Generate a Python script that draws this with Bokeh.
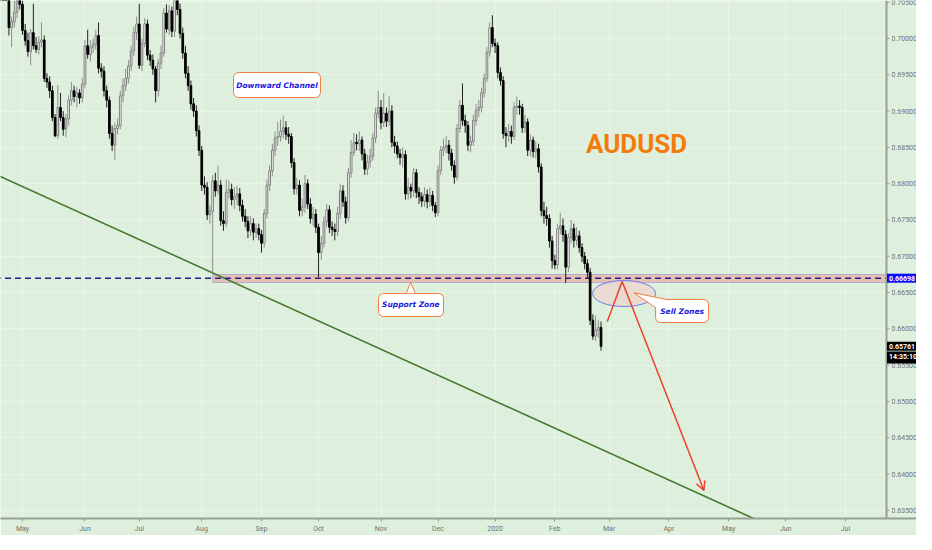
import pandas as pd
from bokeh.plotting import figure
from bokeh.core.properties import value
from bokeh.models import (Range1d, FixedTicker, BoxAnnotation, Span, Grid,
                          Label, Slope, Arrow, OpenHead, ColumnDataSource)
from bokeh.embed import file_html
from bokeh.resources import INLINE

# ---------------- data (AUDUSD daily) ----------------
first_open = 0.7160
closes = [
    .7150, .7150, .7132, .7098, .7015, .7023, .7036, .7054, .7047, .7011,
    .6997, .6982, .7008, .6990, .6985, .6995, .6998, .6945, .6940, .6928,
    .6891, .6866, .6905, .6891, .6875, .6889, .6915, .6928, .6920, .6925,
    .6918, .6937, .6990, .6978, .6988, .6992, .7004, .6959, .6955, .6928,
    .6915, .6869, .6853, .6876, .6880, .6921, .6935, .6945, .6962, .6983,
    .7008, .7020, .6963, .6993, .7020, .6977, .6970, .6958, .6928, .6966,
    .6980, .7035, .7013, .7038, .7010, .7058, .7040, .7007, .6980, .6952,
    .6935, .6910, .6900, .6873, .6846, .6798, .6795, .6757, .6762, .6804,
    .6790, .6798, .6749, .6745, .6788, .6792, .6778, .6782, .6786, .6770,
    .6755, .6748, .6735, .6745, .6733, .6738, .6730, .6718, .6759, .6798,
    .6818, .6846, .6863, .6865, .6872, .6877, .6868, .6865, .6829, .6793,
    .6798, .6763, .6768, .6800, .6772, .6752, .6758, .6740, .6705, .6718,
    .6747, .6764, .6740, .6737, .6734, .6759, .6790, .6775, .6753, .6815,
    .6843, .6857, .6855, .6860, .6841, .6820, .6830, .6838, .6863, .6897,
    .6905, .6884, .6897, .6886, .6900, .6857, .6852, .6841, .6836, .6840,
    .6786, .6795, .6790, .6815, .6788, .6782, .6776, .6785, .6775, .6784,
    .6770, .6760, .6818, .6846, .6850, .6853, .6842, .6825, .6809, .6876,
    .6908, .6887, .6880, .6853, .6858, .6887, .6901, .6905, .6925, .6945,
    .6981, .7015, .6993, .6990, .6953, .6942, .6869, .6866, .6872, .6865,
    .6905, .6907, .6905, .6877, .6885, .6846, .6860, .6844, .6848, .6823,
    .6763, .6756, .6752, .6721, .6694, .6688, .6738, .6742, .6730, .6685,
    .6726, .6738, .6722, .6728, .6712, .6700, .6690, .6678, .6612, .6590,
    .6598, .6602, .6576]
highs = [
    .7172, .7160, .7158, .7140, .7104, .7030, .7052, .7062, .7066, .7052,
    .7020, .7008, .7013, .7048, .7002, .7003, .7022, .7004, .6952, .6948,
    .6935, .6896, .6936, .6925, .6900, .6896, .6922, .6940, .6935, .6933,
    .6930, .6945, .6998, .7012, .6998, .7000, .7012, .7022, .6966, .6962,
    .6935, .6920, .6880, .6884, .6890, .6928, .6945, .6958, .6970, .6990,
    .7016, .7030, .7048, .7000, .7028, .7026, .6984, .6978, .6962, .6972,
    .6990, .7042, .7047, .7046, .7044, .7082, .7068, .7048, .7015, .6990,
    .6962, .6942, .6918, .6908, .6880, .6852, .6810, .6802, .6770, .6812,
    .6815, .6825, .6805, .6762, .6806, .6805, .6800, .6795, .6797, .6794,
    .6778, .6765, .6755, .6756, .6752, .6745, .6745, .6736, .6765, .6806,
    .6826, .6855, .6872, .6885, .6888, .6894, .6886, .6878, .6870, .6835,
    .6808, .6805, .6780, .6812, .6806, .6780, .6768, .6765, .6745, .6728,
    .6755, .6772, .6770, .6748, .6745, .6768, .6800, .6798, .6782, .6822,
    .6860, .6870, .6868, .6872, .6865, .6848, .6840, .6848, .6870, .6905,
    .6928, .6915, .6925, .6905, .6920, .6908, .6866, .6858, .6848, .6850,
    .6846, .6808, .6800, .6822, .6820, .6795, .6788, .6795, .6792, .6795,
    .6790, .6775, .6825, .6852, .6862, .6866, .6860, .6848, .6832, .6882,
    .6915, .6938, .6895, .6886, .6866, .6895, .6910, .6915, .6932, .6952,
    .6988, .7022, .7032, .7000, .6995, .6960, .6948, .6878, .6882, .6880,
    .6912, .6920, .6915, .6910, .6895, .6890, .6868, .6865, .6858, .6855,
    .6828, .6775, .6768, .6758, .6728, .6702, .6745, .6760, .6752, .6736,
    .6732, .6750, .6745, .6740, .6735, .6718, .6706, .6696, .6684, .6620,
    .6618, .6612, .6610]
lows = [
    .7140, .7138, .7125, .7090, .7004, .6988, .7015, .7028, .7040, .7005,
    .6990, .6975, .6963, .6985, .6980, .6978, .6988, .6940, .6932, .6918,
    .6886, .6864, .6862, .6886, .6866, .6864, .6880, .6908, .6912, .6905,
    .6910, .6912, .6932, .6972, .6968, .6980, .6984, .6952, .6946, .6920,
    .6905, .6862, .6845, .6832, .6868, .6875, .6912, .6928, .6938, .6955,
    .6976, .6998, .6958, .6955, .6988, .6970, .6962, .6950, .6912, .6920,
    .6958, .6975, .7008, .7005, .7002, .7002, .7032, .7000, .6972, .6945,
    .6928, .6902, .6892, .6865, .6838, .6790, .6785, .6750, .6745, .6678,
    .6782, .6785, .6742, .6735, .6740, .6780, .6770, .6765, .6770, .6762,
    .6748, .6740, .6725, .6728, .6722, .6725, .6722, .6705, .6712, .6752,
    .6790, .6810, .6838, .6852, .6858, .6862, .6860, .6855, .6822, .6785,
    .6785, .6755, .6755, .6760, .6765, .6745, .6742, .6732, .6671, .6695,
    .6712, .6740, .6732, .6728, .6722, .6728, .6752, .6768, .6745, .6748,
    .6808, .6838, .6846, .6845, .6832, .6812, .6812, .6822, .6832, .6856,
    .6890, .6875, .6878, .6878, .6880, .6850, .6842, .6835, .6826, .6822,
    .6778, .6778, .6780, .6782, .6780, .6772, .6768, .6768, .6766, .6768,
    .6762, .6754, .6755, .6812, .6838, .6842, .6832, .6818, .6800, .6804,
    .6870, .6880, .6870, .6845, .6843, .6852, .6880, .6892, .6898, .6918,
    .6940, .6975, .6988, .6980, .6945, .6935, .6862, .6850, .6858, .6855,
    .6860, .6895, .6895, .6870, .6870, .6838, .6838, .6836, .6835, .6815,
    .6755, .6745, .6742, .6712, .6683, .6682, .6682, .6730, .6720, .6663,
    .6678, .6718, .6712, .6715, .6705, .6692, .6682, .6670, .6605, .6585,
    .6583, .6588, .6570]

month_labels = ["May", "Jun", "Jul", "Aug", "Sep", "Oct", "Nov", "Dec",
                "2020", "Feb", "Mar", "Apr", "May", "Jun", "Jul"]
month_keys = ["2019-05", "2019-06", "2019-07", "2019-08", "2019-09", "2019-10",
              "2019-11", "2019-12", "2020-01", "2020-02", "2020-03", "2020-04",
              "2020-05", "2020-06", "2020-07"]
price_ticks = [0.635, 0.640, 0.645, 0.650, 0.655, 0.660, 0.665, 0.670,
               0.675, 0.680, 0.685, 0.690, 0.695, 0.700, 0.705]
support_level = 0.66698
last_price = 0.65761
countdown = "14:35:10"
symbol = "AUDUSD"

# ---------------- calendar (trading days, bar index axis) ----------------
days = pd.bdate_range("2019-04-18", "2020-07-31")
days = days[~days.isin(pd.to_datetime(["2019-12-25", "2020-01-01"]))]
month_of = [d.strftime("%Y-%m") for d in days]
tick_idx = [month_of.index(k) for k in month_keys]

n = min(len(closes), len(highs), len(lows))
closes, highs, lows = closes[:n], highs[:n], lows[:n]
opens = [first_open] + closes[:-1]
up = [c >= o for o, c in zip(opens, closes)]

def subset(flag):
    ii = [i for i in range(n) if up[i] == flag]
    return ColumnDataSource(dict(
        x=ii,
        top=[max(opens[i], closes[i]) for i in ii],
        bottom=[min(opens[i], closes[i]) for i in ii],
        high=[highs[i] for i in ii],
        low=[lows[i] for i in ii]))

# ---------------- layout ----------------
BG = "#DEF0DD"
GRID = "#E9F5E7"
AX = "#95A095"
TXT = "#707070"
W = 916
FRAME_H = 518
BAR_PX = 2.716               # pixels per bar
PRICE_PX = 7260.0            # pixels per 1.0 of price
SCALE_W = 30                 # width of the price scale strip
X0 = 0.902                   # bar index at the left edge
XR = X0 + (W - SCALE_W) / BAR_PX   # price-scale line
XEND = X0 + W / BAR_PX
Y1 = 0.70523
Y0 = Y1 - FRAME_H / PRICE_PX
PX = 1.0 / BAR_PX            # one pixel in bar units

p = figure(width=W, frame_height=FRAME_H, output_backend="svg", toolbar_location=None,
           x_range=Range1d(X0, XEND), y_range=Range1d(Y0, Y1),
           y_axis_location=None, min_border=0)
p.background_fill_color = BG
p.border_fill_color = BG
p.outline_line_color = None

p.xaxis.ticker = FixedTicker(ticks=tick_idx)
p.xaxis.major_label_overrides = {t: l for t, l in zip(tick_idx, month_labels)}
p.xaxis.axis_line_color = AX
p.xaxis.axis_line_width = 2
p.xaxis.major_tick_line_color = AX
p.xaxis.major_tick_in = 0
p.xaxis.major_tick_out = 3
p.xaxis.minor_tick_line_color = None
p.xaxis.major_label_text_color = TXT
p.xaxis.major_label_text_font = "Roboto"
p.xaxis.major_label_text_font_size = "7px"
p.xaxis.major_label_standoff = 3
p.xgrid.grid_line_color = GRID
p.add_layout(Grid(dimension=1, ticker=FixedTicker(ticks=price_ticks), bounds=(X0, XR),
                  grid_line_color=GRID, level="underlay"))

# price scale (drawn inside the frame on the right)
p.add_layout(Span(location=XR, dimension="height", line_color=AX, line_width=2))
p.segment(x0=[XR] * len(price_ticks), x1=[XR + 3 * PX] * len(price_ticks),
          y0=price_ticks, y1=price_ticks, line_color=AX, line_width=1)
p.text(x=[XR + 5 * PX] * len(price_ticks), y=price_ticks,
       text=["%.5f" % t for t in price_ticks], text_font=value("Roboto"),
       text_font_size=value("7px"), text_color=TXT, text_baseline="middle",
       text_align="left")

# support zone + dashed level
p.add_layout(BoxAnnotation(left=79, right=XR, bottom=0.66639, top=0.66749,
                           fill_color="#E8C0B2", fill_alpha=1.0, line_color="#4A4AE0",
                           line_width=1, level="underlay"))
p.segment(x0=[X0 - 2], x1=[XR], y0=[support_level], y1=[support_level],
          line_color="#1F1F8A", line_width=1.6, line_dash="6 4")
# long-term trendline
p.add_layout(Slope(gradient=-0.00016987, y_intercept=0.68114, line_color="#467A34",
                   line_width=1.6, level="underlay"))

# candles
bull = subset(True)
bear = subset(False)
p.segment(x0="x", y0="low", x1="x", y1="high", source=bull, line_color="#8C8C8C", line_width=1)
p.vbar(x="x", width=0.62, top="top", bottom="bottom", source=bull,
       fill_color="#FFFFFF", line_color="#7E7E7E", line_width=1)
p.segment(x0="x", y0="low", x1="x", y1="high", source=bear, line_color="#222222", line_width=1)
p.vbar(x="x", width=0.62, top="top", bottom="bottom", source=bear,
       fill_color="#000000", line_color="#000000", line_width=1)

# sell-zone ellipse and red projection
p.ellipse(x=[230.5], y=[0.66487], width=23.2, height=0.00358,
          fill_color="#EAD8CE", fill_alpha=0.9, line_color="#6B7CF0", line_width=1)
RED = "#E8412C"
p.line(x=[224.3, 229.8], y=[0.66100, 0.66652], line_color=RED, line_width=1.5)
p.add_layout(Arrow(x_start=229.8, y_start=0.66652, x_end=259.9, y_end=0.63774,
                   line_color=RED, line_width=1.5,
                   end=OpenHead(size=9, line_color=RED, line_width=1.5)))

# callouts
ORANGE = "#F27B3A"
BLUE_TXT = "#1818E0"

def callout(left, right, top, bottom, text, tx, ty, pointer=None):
    p.quad(left=[left], right=[right], top=[top], bottom=[bottom], border_radius=5,
           fill_color="#FFFFFF", line_color=ORANGE, line_width=1)
    if pointer is not None:
        (ax_, ay_), (b1x, b1y), (b2x, b2y) = pointer
        p.patch(x=[b1x, ax_, b2x], y=[b1y, ay_, b2y], fill_color="#FFFFFF", line_color=None)
        p.line(x=[b1x, ax_, b2x], y=[b1y, ay_, b2y], line_color=ORANGE, line_width=1)
    p.add_layout(Label(x=tx, y=ty, text=text, text_align="center", text_baseline="middle",
                       text_font="DejaVu Sans", text_font_style="bold italic",
                       text_font_size="7.5px", text_color=BLUE_TXT))

callout(86.7, 118.7, 0.69531, 0.69187, "Downward Channel", 102.7, 0.69359)
callout(140.1, 164.0, 0.66487, 0.66170, "Support Zone", 152.0, 0.66329,
        pointer=((151.9, 0.66639), (150.3, 0.66489), (153.7, 0.66489)))
callout(242.1, 261.6, 0.66405, 0.66088, "Sell Zones", 251.85, 0.66246,
        pointer=((234.1, 0.66497), (242.2, 0.66290), (246.5, 0.66403)))

p.add_layout(Label(x=235.1, y=0.68553, text=symbol, text_align="center",
                   text_baseline="middle", text_font="Roboto", text_font_style="bold",
                   text_font_size="26px", text_color="#F57C0A"))

# price-scale markers
def price_tag(y, text, bg):
    p.add_layout(Label(x=XR + 0.5 * PX, y=y, text=text, text_align="left",
                       text_baseline="middle", text_font="Roboto", text_font_style="bold",
                       text_font_size="7px", text_color="#FFFFFF",
                       background_fill_color=bg, padding=2, level="overlay"))

price_tag(support_level, "%.5f" % support_level, "#0A0AF5")
price_tag(last_price, "%.5f" % last_price, "#000000")
price_tag(0.65607, countdown, "#000000")

open("out.html", "w").write(file_html(p, INLINE))
